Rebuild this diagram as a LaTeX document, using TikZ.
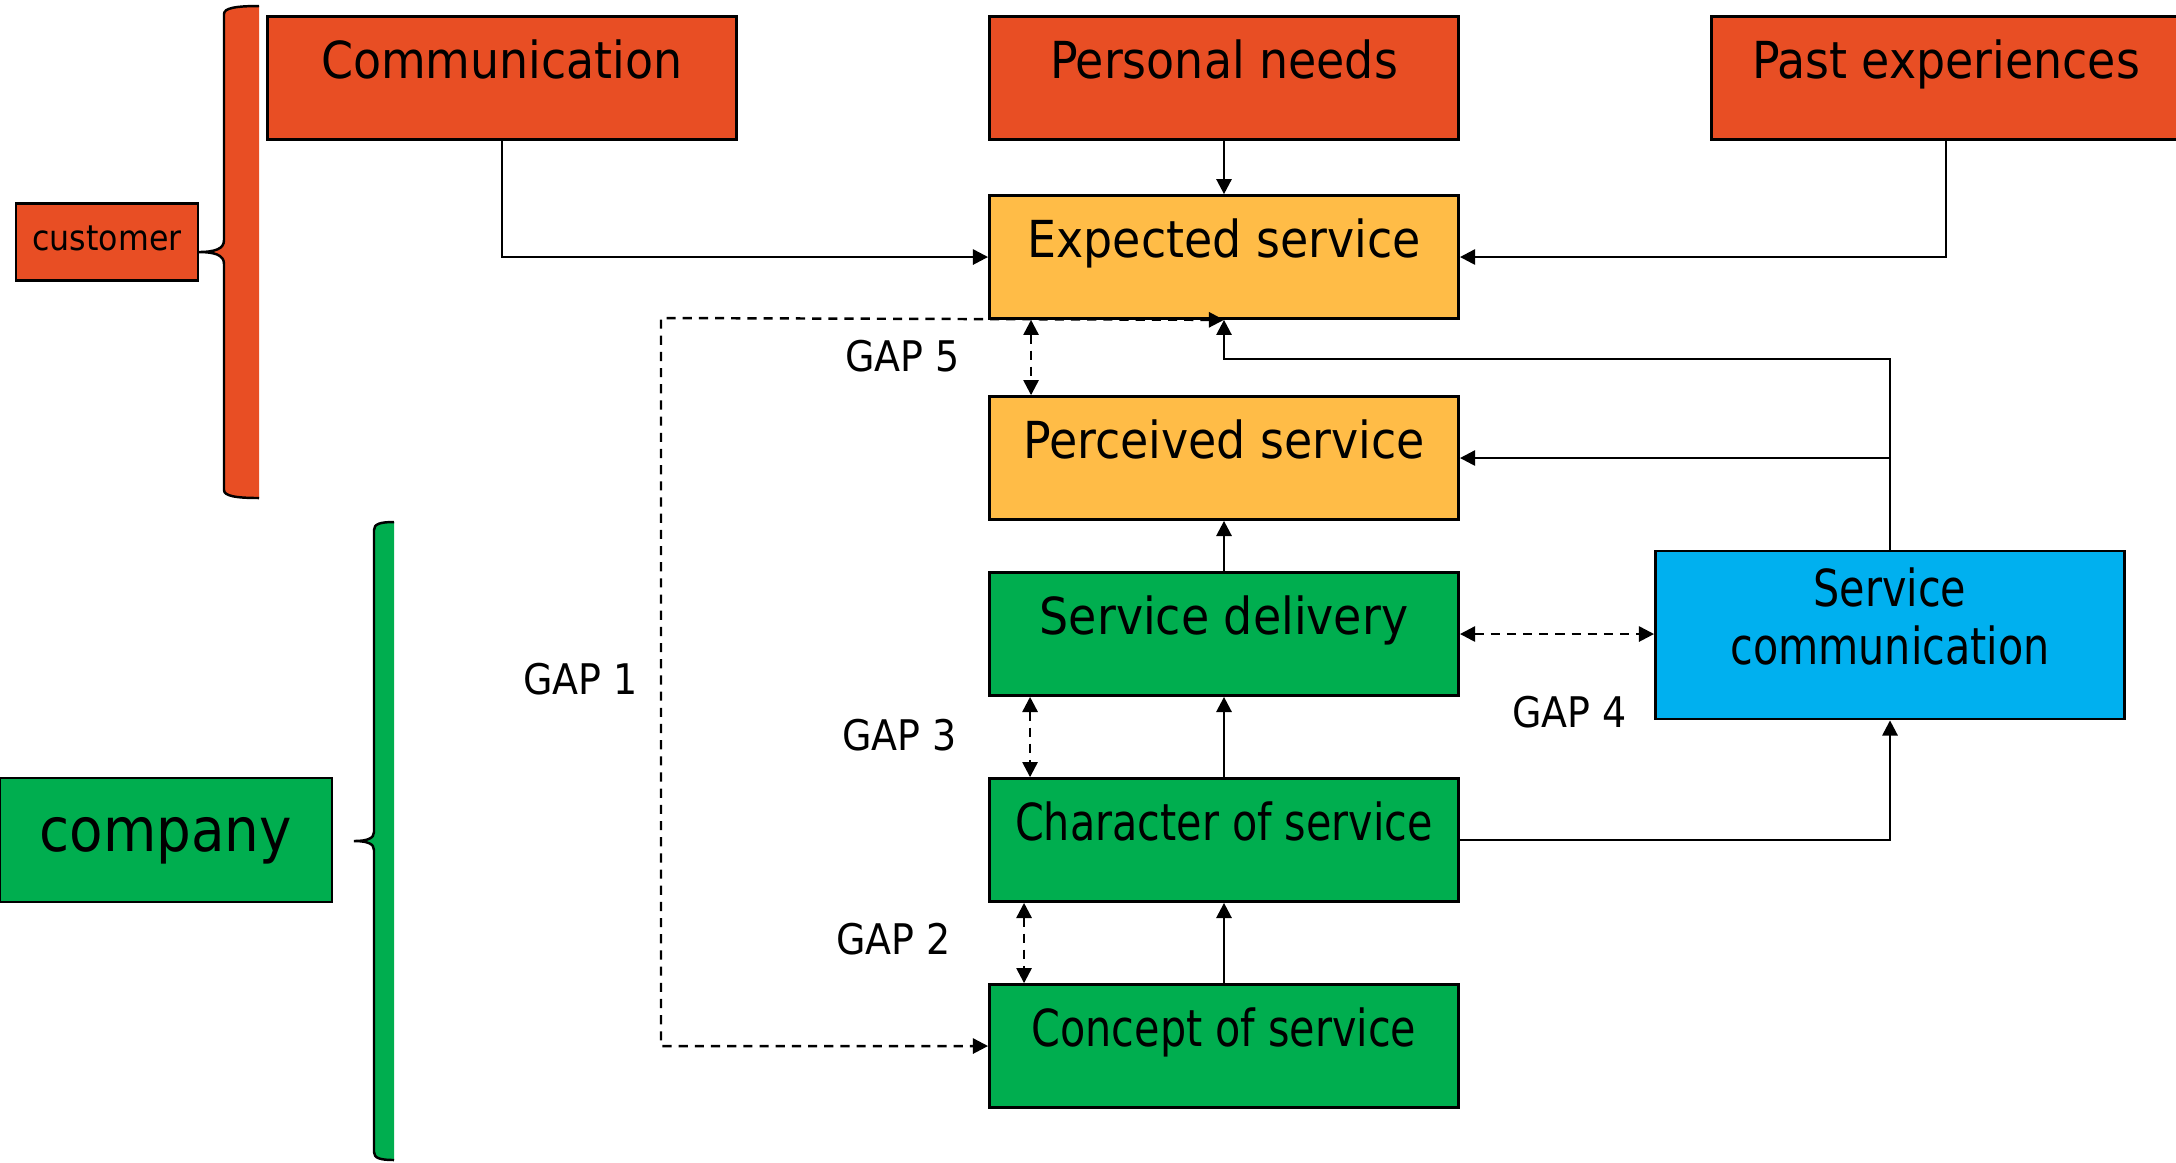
\documentclass[tikz,border=0pt]{standalone}
\usepackage{fontspec}
\setmainfont{DejaVu Sans Condensed}
\newfontfamily\narrowfont{DejaVu Sans Condensed}[FakeStretch=0.9]
\usetikzlibrary{arrows.meta,calc}

\definecolor{custred}{HTML}{E84E24}
\definecolor{expgold}{HTML}{FFBC47}
\definecolor{compgreen}{HTML}{00AE4F}
\definecolor{commblue}{HTML}{00B0EF}

\tikzset{
	box/.style={draw, line width=0.75pt, minimum width=4.69cm, minimum height=1.23cm,
		text height=0pt, text depth=0pt, font=\fontsize{14.5}{16.5}\selectfont},
	narrow/.style={font=\fontsize{14.5}{16.5}\narrowfont},
	gap/.style={<->, dash pattern=on 2.6pt off 2pt, line width=0.7pt},
	gaplabel/.style={anchor=base west, inner sep=0pt, font=\fontsize{12}{14}\selectfont}
}

\begin{document}
\begin{tikzpicture}[x=0.01cm, y=-0.01cm, line width=0.7pt, >={Triangle[length=4.3pt,width=4.3pt]}]
		\useasboundingbox (0,0) rectangle (2176,1162);
		% customer side
		\draw (502,78) node [box, fill=custred] (comm) {Communication};
		\draw (1224,78) node [box, fill=custred] (needs) {Personal needs};
		\draw (1946,78) node [box, fill=custred] (past) {Past experiences};
		\draw (1224,257) node [box, fill=expgold] (exp) {Expected service};
		\draw (1224,458) node [box, fill=expgold] (perc) {Perceived service};
		% company side
		\draw (1224,634) node [box, fill=compgreen] (deliv) {Service delivery};
		\draw (1224,840) node [box, narrow, fill=compgreen] (char) {Character of service};
		\draw (1224,1046) node [box, narrow, fill=compgreen] (concept) {Concept of service};
		\draw (1890,635) node [box, narrow, fill=commblue, minimum height=1.68cm, align=center,
			text height=16.8pt] (scomm) {Service\\communication};
		\draw (107,242) node [box, fill=custred, minimum width=1.82cm, minimum height=0.77cm,
			text height=4.6pt, font=\fontsize{10}{12}\selectfont] (cust) {customer};
		\draw (166,840) node [box, fill=compgreen, minimum width=3.32cm, minimum height=1.24cm,
			text height=6.8pt, font=\fontsize{17.3}{20}\selectfont] (comp) {company};
		% braces
		\draw[fill=custred] (259,6) .. controls (236,6) and (224,8) .. (224,14) -- (224,240)
			.. controls (224,249) and (215,252) .. (198,252) .. controls (215,252) and (224,255) .. (224,264)
			-- (224,490) .. controls (224,496) and (236,498) .. (259,498);
		\draw[fill=compgreen] (394,522) .. controls (380,522) and (374,524) .. (374,530) -- (374,832)
			.. controls (374,838) and (368,841) .. (354,841) .. controls (368,841) and (374,844) .. (374,850)
			-- (374,1152) .. controls (374,1158) and (380,1160) .. (394,1160);
		% gap labels
		\node[gaplabel] (gap1) at (522,694) {GAP 1};
		\node[gaplabel] (gap2) at (835,954) {GAP 2};
		\node[gaplabel] (gap3) at (841,750) {GAP 3};
		\node[gaplabel] (gap4) at (1511,727) {GAP 4};
		\node[gaplabel] (gap5) at (844,371) {GAP 5};
		\coordinate (ret) at (1890,359);
		\coordinate (g1) at (661,318);
		\path[->]
			(needs) edge (exp)
			(deliv) edge (perc)
			(char) edge (deliv)
			(concept) edge (char);
		\draw[->] (comm.south) |- (exp.west);
		\draw[->] (past.south) |- (exp.east);
		\draw[->] (scomm.north) -- (ret) -| (exp.south);
		\draw[->] (scomm.north |- perc.east) -- (perc.east);
		\draw[->] (char.east) -| (scomm.south);
		\draw[gap] ($(exp.south west)+(43,0)$) -- ($(perc.north west)+(43,0)$);
		\draw[gap] ($(deliv.south west)+(42,0)$) -- ($(char.north west)+(42,0)$);
		\draw[gap] ($(char.south west)+(36,0)$) -- ($(concept.north west)+(36,0)$);
		\draw[gap] (deliv.east) -- (deliv.east -| scomm.west);
		\draw[gap] (exp.south) -- (g1) |- (concept.west);
	\end{tikzpicture}
\end{document}
